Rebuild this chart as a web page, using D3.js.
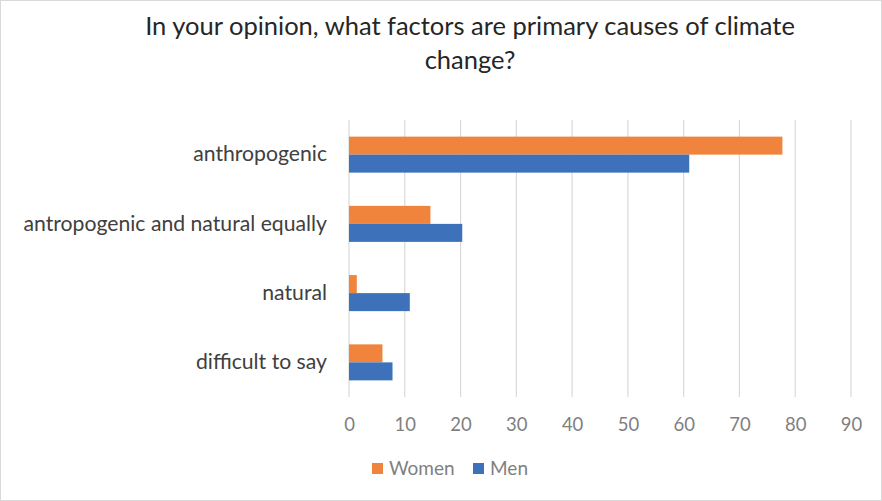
<!DOCTYPE html>
<html>
<head>
<meta charset="utf-8">
<script src="https://cdn.jsdelivr.net/npm/d3@7"></script>
<style>
  html, body { margin: 0; padding: 0; background: #fff; }
  svg { display: block; font-family: Lato, "Open Sans", sans-serif; }
</style>
</head>
<body>
<svg id="chart" width="882" height="501"></svg>
<script>
// Survey answers by gender (percent of respondents)
const categories = ["anthropogenic", "antropogenic and natural equally", "natural", "difficult to say"];
const seriesNames = ["Women", "Men"];
const women = [77.7, 14.6, 1.4, 6.0];
const men = [61.0, 20.3, 10.9, 7.8];
const xTicks = [0, 10, 20, 30, 40, 50, 60, 70, 80, 90];
const titleLines = ["In your opinion, what factors are primary causes of climate", "change?"];

const colors = { Women: "#F0843C", Men: "#3D72BA" };
const W = 882, H = 501;
const margin = { top: 120, right: 31, bottom: 104, left: 349 };

const svg = d3.select("#chart");

// outer frame
svg.append("rect")
  .attr("x", 0.5).attr("y", 0.5)
  .attr("width", W - 1).attr("height", H - 1)
  .attr("fill", "#fff").attr("stroke", "#d9d9d9");

// title
svg.append("g").selectAll("text")
  .data(titleLines)
  .join("text")
  .attr("x", 470)
  .attr("y", (d, i) => 35 + i * 34)
  .attr("text-anchor", "middle")
  .attr("font-size", 25.5)
  .attr("fill", "#262626")
  .text(d => d);

const x = d3.scaleLinear().domain([0, 90]).range([margin.left, W - margin.right]);
const y = d3.scaleBand().domain(categories).range([margin.top, H - margin.bottom]).paddingInner(0.48).paddingOuter(0.24);
const ySub = d3.scaleBand().domain(seriesNames).range([0, y.bandwidth()]);

// vertical gridlines
svg.append("g").selectAll("line")
  .data(xTicks)
  .join("line")
  .attr("x1", d => x(d)).attr("x2", d => x(d))
  .attr("y1", margin.top).attr("y2", H - margin.bottom)
  .attr("stroke", "#d9d9d9").attr("stroke-width", 1.2);

// x axis tick labels
const xAxis = d3.axisBottom(x).tickValues(xTicks).tickSize(0).tickPadding(0);
const gx = svg.append("g")
  .attr("transform", `translate(0,${H - margin.bottom})`)
  .call(xAxis);
gx.select(".domain").remove();
gx.selectAll("text")
  .attr("y", 34)
  .attr("dy", null)
  .attr("font-family", "Lato, 'Open Sans', sans-serif")
  .attr("font-size", 18.5)
  .attr("fill", "#7f7f7f");

// y axis category labels
const yAxis = d3.axisLeft(y).tickSize(0).tickPadding(22);
const gy = svg.append("g")
  .attr("transform", `translate(${margin.left},0)`)
  .call(yAxis);
gy.select(".domain").remove();
gy.selectAll("text")
  .attr("font-family", "Lato, 'Open Sans', sans-serif")
  .attr("font-size", 21.2)
  .attr("fill", "#404040");

// bars
const rows = categories.map((c, i) => ({ category: c, values: [
  { name: "Women", value: women[i] },
  { name: "Men", value: men[i] }
] }));

const groups = svg.append("g").selectAll("g")
  .data(rows)
  .join("g")
  .attr("transform", d => `translate(0,${y(d.category)})`);

groups.selectAll("rect")
  .data(d => d.values)
  .join("rect")
  .attr("x", x(0))
  .attr("y", d => ySub(d.name))
  .attr("width", d => x(d.value) - x(0))
  .attr("height", ySub.bandwidth())
  .attr("fill", d => colors[d.name]);

// legend
const legendItems = [
  { name: "Women", x: 372 },
  { name: "Men", x: 473 }
];
const lg = svg.append("g").selectAll("g")
  .data(legendItems)
  .join("g")
  .attr("transform", d => `translate(${d.x},463)`);
lg.append("rect")
  .attr("width", 11).attr("height", 11)
  .attr("fill", d => colors[d.name]);
lg.append("text")
  .attr("x", 17).attr("y", 12)
  .attr("font-size", 19)
  .attr("fill", "#7f7f7f")
  .text(d => d.name);
</script>
</body>
</html>
